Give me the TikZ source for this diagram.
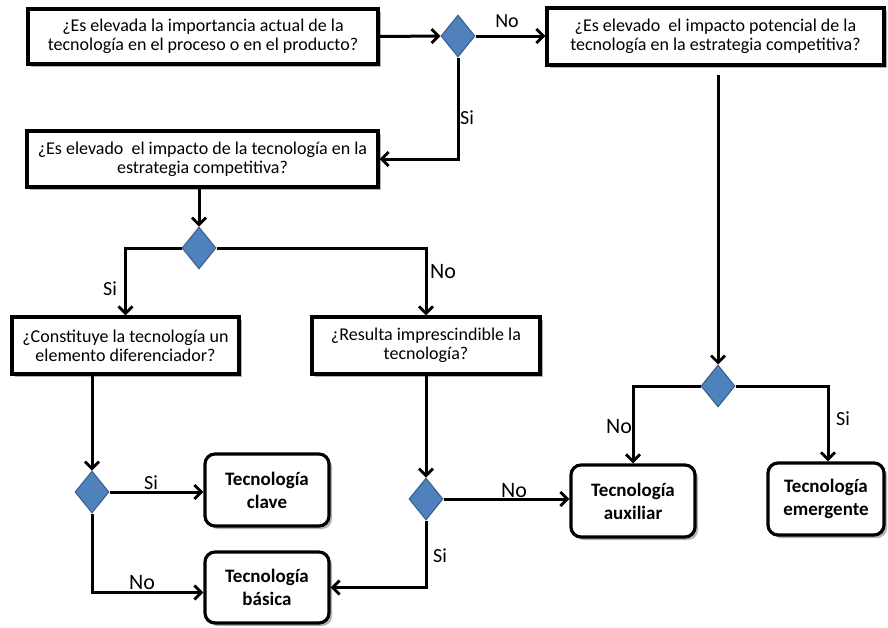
\documentclass[tikz,border=0pt]{standalone}
\usepackage{fontspec}
\setmainfont{Carlito}
\usetikzlibrary{arrows.meta,shapes.geometric,shadows,calc}
\definecolor{decfill}{HTML}{4F81BD}
\definecolor{decedge}{HTML}{385D8A}

\begin{document}
\begin{tikzpicture}[x=1pt,y=-1pt,
  conn/.style={line width=3pt,-{Straight Barb[length=7pt,width=14pt,line width=2.8pt]}},
  bshadow/.style={drop shadow={shadow xshift=3pt,shadow yshift=-3pt,opacity=0.3,fill=black}},
  question/.style={draw,line width=3.2pt,fill=white,align=center,inner sep=0pt,
    font=\fontsize{18}{19}\selectfont,bshadow},
  result/.style={draw,line width=3.2pt,rounded corners=10pt,fill=white,align=center,
    inner sep=0pt,font=\fontsize{19}{23}\selectfont\bfseries,bshadow},
  decision/.style={diamond,draw=decedge,line width=1pt,fill=decfill,
    minimum width=34pt,minimum height=42pt,inner sep=0pt},
  lab/.style={font=\fontsize{20}{20}\selectfont,inner sep=0pt},
  labbig/.style={font=\fontsize{22}{22}\selectfont,inner sep=0pt},
]
\useasboundingbox (0,0) rectangle (888,627);

% question boxes
\node[question,minimum width=350pt,minimum height=55pt] (b1) at (203,36.5)
  {¿Es elevada la importancia actual de la\\tecnología en el proceso o en el producto?};
\node[question,minimum width=337pt,minimum height=57pt] (b3) at (715.5,36.5)
  {¿Es elevado~ el impacto potencial de la\\tecnología en la estrategia competitiva?};
\node[question,minimum width=351pt,minimum height=56pt] (b2) at (202.5,159)
  {¿Es elevado~ el impacto de la tecnología en la\\estrategia competitiva?};
\node[question,minimum width=227pt,minimum height=57pt] (b4) at (125.5,345.5)
  {¿Constituye la tecnología un\\elemento diferenciador?};
\node[question,minimum width=228pt,minimum height=57pt] (b5) at (426,345.5)
  {¿Resulta imprescindible la\\tecnología?};

% outcome boxes
\node[result,minimum width=124pt,minimum height=72pt] (clave) at (267,490) {Tecnología\\clave};
\node[result,minimum width=124pt,minimum height=71pt] (basica) at (267,587.5) {Tecnología\\básica};
\node[result,minimum width=124pt,minimum height=72pt] (aux) at (633,501) {Tecnología\\auxiliar};
\node[result,minimum width=116pt,minimum height=72pt] (emer) at (826,499) {Tecnología\\emergente};

% decision points
\node[decision] (d1) at (458,36) {};
\node[decision] (d2) at (199,248) {};
\node[decision] (d3) at (92,492) {};
\node[decision] (d4) at (426,499) {};
\node[decision] (d5) at (718,386) {};

% connectors
\draw[conn] (b1.east) -- (d1.west);
\draw[conn] (d1.east) -- (b3.west |- d1.east);
\draw[conn] (d1.south) |- (b2.east);
\draw[conn] (d2 |- b2.south) -- (d2.north);
\draw[conn] (d2.west) -| (b4.north);
\draw[conn] (d2.east) -| (b5.north);
\draw[conn] (d3 |- b4.south) -- (d3.north);
\draw[conn] (d3.east) -- (clave.west |- d3.east);
\draw[conn] (d3.south) |- ($(basica.west)+(0,5)$);
\draw[conn] (d4 |- b5.south) -- (d4.north);
\draw[conn] (d4.east) -- (aux.west |- d4.east);
\draw[conn] (d4.south) |- (basica.east);
\coordinate (t5) at ($(d5 |- b3.south)+(0,8)$);
\draw[conn] (t5) -- (d5.north);
\draw[conn] (d5.west) -| (aux.north);
\draw[conn] (d5.east) -| ($(emer.north)+(2,0)$);

% branch labels
\node[lab] (l1) at (507,21) {No};
\node[lab] (l2) at (467,118) {Si};
\node[lab] (l3) at (110,289) {Si};
\node[labbig] (l4) at (443,272) {No};
\node[lab] (l5) at (151,483) {Si};
\node[labbig] (l6) at (142,583) {No};
\node[lab] (l7) at (440,556) {Si};
\node[labbig] (l8) at (514,491) {No};
\node[labbig] (l9) at (619,427) {No};
\node[lab] (l10) at (843,419) {Si};
\end{tikzpicture}
\end{document}
